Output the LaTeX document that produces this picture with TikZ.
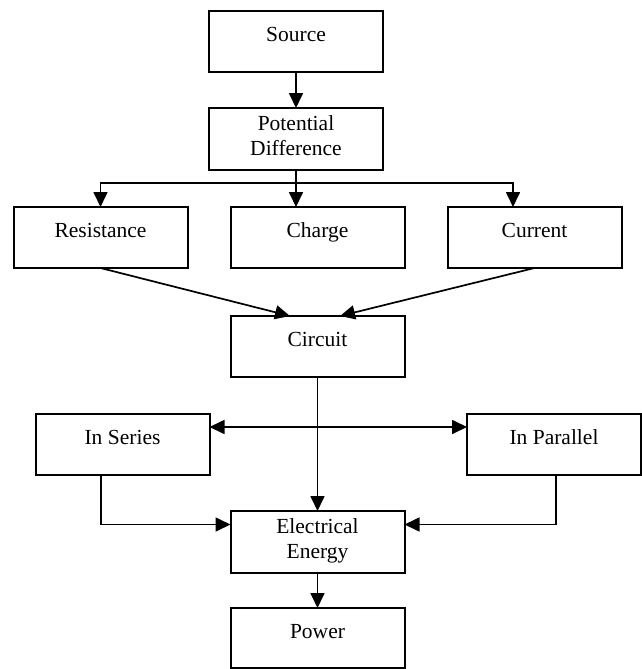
\documentclass[tikz,border=0pt]{standalone}
\usepackage{fontspec}
\setmainfont{Liberation Serif}
\usetikzlibrary{arrows.meta, positioning, calc}

\begin{document}
\begin{tikzpicture}[
    x=1pt, y=1pt,
    >={Triangle[length=15pt, width=14pt]},
    box/.style={rectangle, draw, line width=2pt, align=center,
                minimum width=174pt, minimum height=61pt,
                inner sep=0pt, outer sep=0pt,
                font=\fontsize{21.5}{25}\selectfont,
                text height=47pt, text depth=15pt},
    single/.style={box, text height=15pt},
    arr/.style={->, line width=1.7pt}
  ]
  \useasboundingbox (0,0) rectangle (642,-669);

  \node[single] (source) at (296,-41.5) {Source};
  \node[box, below=36pt of source] (pd) {Potential\\Difference};
  \node[single, below=37pt of pd, xshift=21.5pt] (charge) {Charge};
  \node[single, left=43pt of charge] (res) {Resistance};
  \node[single, right=43pt of charge] (current) {Current};
  \node[single, below=48pt of charge] (circuit) {Circuit};
  \node[single, below left=37pt and 21pt of circuit] (series) {In Series};
  \node[single, below right=37pt and 62.5pt of circuit] (parallel) {In Parallel};
  \node[box, below=134pt of circuit] (energy) {Electrical\\Energy};
  \node[single, below=35pt of energy, minimum height=60pt] (power) {Power};

  \coordinate (split) at ($(pd.south)+(0,-13)$);

  \draw[arr] (source) -- (pd);
  \draw[line width=1.7pt] (pd.south) -- (split);
  \draw[arr] (split) -| (res.north);
  \draw[arr] (split) -- (split |- charge.north);
  \draw[arr] (split) -| ([xshift=-21.5pt]current.north);

  \draw[arr] (res.south) -- ([xshift=-27.5pt]circuit.north);
  \draw[arr] (current.south) -- ([xshift=22.5pt]circuit.north);

  \draw[arr] (circuit) -- (energy);
  \draw[arr, <->] ([yshift=17.5pt]series.east) -- ([yshift=17.5pt]parallel.west);
  \draw[arr] ([xshift=-21.5pt]series.south) |- ([yshift=17.5pt]energy.west);
  \draw[arr] ([xshift=2pt]parallel.south) |- ([yshift=17.5pt]energy.east);
  \draw[arr] (energy) -- (power);

\end{tikzpicture}
\end{document}
